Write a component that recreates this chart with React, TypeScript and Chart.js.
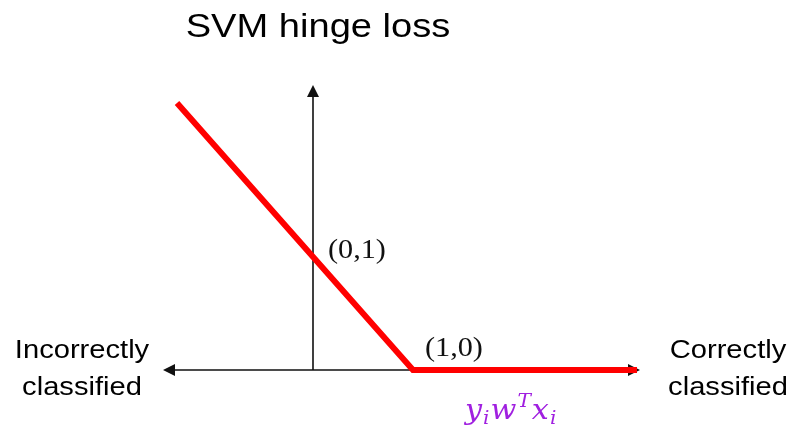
import React, { useEffect, useRef } from "react";
import { Chart, registerables } from "chart.js";

Chart.register(...registerables);

// ---- data ----
const lossX = [-1.36, 1, 3.24];
const lossY = [2.36, 0, 0];
const xRange = [-1.5, 3.27];
const yRange = [0, 2.52];
const titleText = "SVM hinge loss";
const leftLabel = ["Incorrectly", "classified"];
const rightLabel = ["Correctly", "classified"];
const pointLabels = [
  { text: "(0,1)", x: 0, y: 1 },
  { text: "(1,0)", x: 1, y: 0 },
];

const SANS = "'Liberation Sans', Arial, Helvetica, sans-serif";
const SERIF = "'Liberation Serif', 'DejaVu Serif', serif";
const MATH = "'DejaVu Serif', 'Liberation Serif', serif";
const STRETCH = 1.12;

function stretchedText(
  ctx: CanvasRenderingContext2D,
  text: string,
  x: number,
  y: number,
  align: "left" | "center"
) {
  ctx.save();
  ctx.translate(x, y);
  ctx.scale(STRETCH, 1);
  ctx.textAlign = align;
  ctx.textBaseline = "alphabetic";
  ctx.fillText(text, 0, 0);
  ctx.restore();
}

function arrowHead(
  ctx: CanvasRenderingContext2D,
  tx: number,
  ty: number,
  dx: number,
  dy: number
) {
  const len = 12;
  const half = 6;
  const bx = tx - dx * len;
  const by = ty - dy * len;
  ctx.beginPath();
  ctx.moveTo(tx, ty);
  ctx.lineTo(bx - dy * half, by + dx * half);
  ctx.lineTo(bx + dy * half, by - dx * half);
  ctx.closePath();
  ctx.fill();
}

const axesPlugin = {
  id: "arrowAxes",
  beforeDatasetsDraw(chart: any) {
    const { ctx, scales } = chart;
    const xs = scales.x;
    const ys = scales.y;
    const x0 = xs.getPixelForValue(0);
    const y0 = ys.getPixelForValue(0);
    const left = xs.getPixelForValue(xRange[0]);
    const right = xs.getPixelForValue(xRange[1]);
    const top = ys.getPixelForValue(yRange[1]);
    ctx.save();
    ctx.strokeStyle = "#111";
    ctx.fillStyle = "#111";
    ctx.lineWidth = 1.6;
    ctx.beginPath();
    ctx.moveTo(left + 6, y0);
    ctx.lineTo(right - 6, y0);
    ctx.moveTo(x0, y0);
    ctx.lineTo(x0, top + 6);
    ctx.stroke();
    arrowHead(ctx, left, y0, -1, 0);
    arrowHead(ctx, right, y0, 1, 0);
    arrowHead(ctx, x0, top, 0, -1);
    ctx.restore();
  },
  afterDraw(chart: any) {
    const { ctx, scales } = chart;
    const xs = scales.x;
    const ys = scales.y;
    const y0 = ys.getPixelForValue(0);
    ctx.save();
    ctx.fillStyle = "#000";
    // title
    ctx.font = `34px ${SANS}`;
    stretchedText(ctx, titleText, 318, 37, "center");
    // side labels
    ctx.font = `26px ${SANS}`;
    stretchedText(ctx, leftLabel[0], 82, y0 - 12, "center");
    stretchedText(ctx, leftLabel[1], 82, y0 + 25, "center");
    stretchedText(ctx, rightLabel[0], 728, y0 - 12, "center");
    stretchedText(ctx, rightLabel[1], 728, y0 + 25, "center");
    // point labels
    ctx.fillStyle = "#111";
    ctx.font = `27px ${SERIF}`;
    const p0 = pointLabels[0];
    stretchedText(ctx, p0.text, xs.getPixelForValue(p0.x) + 15, ys.getPixelForValue(p0.y) + 1, "left");
    const p1 = pointLabels[1];
    stretchedText(ctx, p1.text, xs.getPixelForValue(p1.x) + 12, ys.getPixelForValue(p1.y) - 14, "left");
    // math label y_i w^T x_i
    ctx.fillStyle = "#A020E0";
    let cx = xs.getPixelForValue(1) + 52;
    const base = y0 + 49;
    const big = `italic 27px ${MATH}`;
    const small = `italic 18px ${MATH}`;
    const parts: [string, string, number][] = [
      ["y", big, 0],
      ["i", small, 5],
      ["w", big, 0],
      ["T", small, -12],
      ["x", big, 0],
      ["i", small, 5],
    ];
    for (const [t, f, dy] of parts) {
      ctx.font = f;
      ctx.save();
      ctx.translate(cx, base + dy);
      ctx.scale(STRETCH, 1);
      ctx.textAlign = "left";
      ctx.fillText(t, 0, 0);
      ctx.restore();
      cx += ctx.measureText(t).width * STRETCH + 1;
    }
    ctx.restore();
  },
};

export default function App() {
  const ref = useRef<HTMLCanvasElement | null>(null);
  useEffect(() => {
    document.body.style.margin = "0";
    const canvas = ref.current;
    if (!canvas) return;
    const chart = new Chart(canvas, {
      type: "line",
      data: {
        datasets: [
          {
            data: lossX.map((x, i) => ({ x, y: lossY[i] })),
            borderColor: "#FF0000",
            borderWidth: 6,
            pointRadius: 0,
            tension: 0,
            fill: false,
            clip: false as any,
            borderCapStyle: "butt",
            borderJoinStyle: "miter",
          },
        ],
      },
      options: {
        responsive: false,
        animation: false,
        devicePixelRatio: 1,
        layout: { padding: { left: 163, right: 155, top: 85, bottom: 57 } },
        plugins: {
          legend: { display: false },
          title: { display: false },
          tooltip: { enabled: false },
        },
        events: [],
        scales: {
          x: { type: "linear", min: xRange[0], max: xRange[1], display: false },
          y: { type: "linear", min: yRange[0], max: yRange[1], display: false },
        },
      },
      plugins: [axesPlugin],
    });
    return () => chart.destroy();
  }, []);
  return (
    <div style={{ width: 795, height: 427, background: "#fff" }}>
      <canvas ref={ref} width={795} height={427} style={{ display: "block" }} />
    </div>
  );
}
